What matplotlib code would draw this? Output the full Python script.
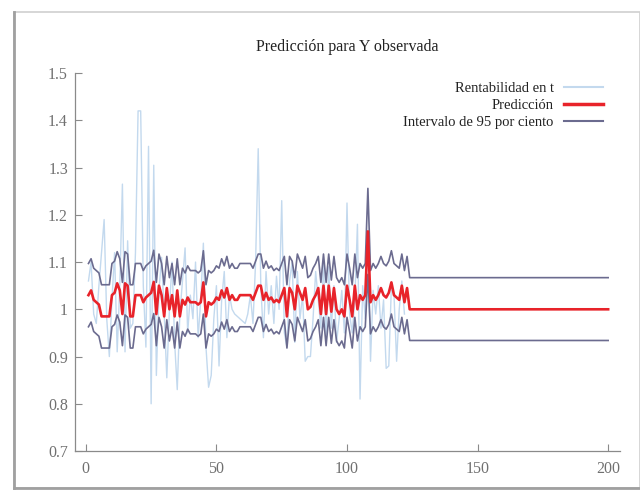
import numpy as np
import matplotlib
matplotlib.use("Agg")
from matplotlib import pyplot as plt
from matplotlib.lines import Line2D

# observed series (t = 1..122)
observed = [
    1.06, 1.10, 0.99, 0.97, 1.05, 1.12, 1.19, 0.98, 0.90, 1.02,
    1.12, 0.91, 1.05, 1.265, 0.91, 1.145, 0.96, 0.97, 1.12, 1.42,
    1.42, 1.05, 0.92, 1.345, 0.80, 1.305, 0.86, 1.04, 1.11, 0.99,
    0.855, 1.00, 1.10, 0.93, 0.83, 0.99, 1.06, 1.13, 0.95, 1.03,
    0.98, 1.10, 0.94, 1.02, 1.14, 0.92, 0.835, 0.86, 0.98, 1.05,
    0.88, 1.02, 1.08, 0.94, 1.03, 1.00, 0.99, 0.985, 0.98, 0.975,
    0.97, 0.99, 1.03, 0.97, 1.10, 1.34, 1.05, 0.94, 1.08, 0.99,
    1.05, 0.97, 1.07, 1.00, 1.23, 0.95, 0.92, 1.06, 1.10, 0.93,
    1.08, 0.98, 1.03, 0.89, 0.90, 0.90, 0.98, 1.08, 1.02, 0.96,
    1.10, 0.94, 1.09, 0.96, 1.05, 0.93, 0.98, 1.04, 0.95, 1.225,
    0.99, 0.95, 1.02, 1.18, 0.81, 1.05, 0.98, 1.16, 0.89, 1.04,
    0.99, 1.05, 0.96, 1.02, 0.875, 0.88, 1.05, 1.03, 0.89, 1.00,
    1.06, 0.99,
]

# fitted values (t = 1..123)
fitted = [
    1.030, 1.040, 1.020, 1.015, 1.010, 0.985, 0.985, 0.985, 0.985, 1.030,
    1.035, 1.055, 1.040, 0.990, 1.055, 1.050, 0.985, 0.985, 1.030, 1.030,
    1.030, 1.015, 1.025, 1.030, 1.035, 1.058, 0.990, 1.050, 1.030, 0.985,
    1.045, 1.000, 1.030, 0.985, 1.040, 0.985, 1.020, 1.010, 1.025, 1.015,
    1.015, 1.015, 1.010, 1.015, 1.057, 0.985, 1.015, 1.010, 1.015, 1.025,
    1.020, 1.040, 1.025, 1.045, 1.020, 1.030, 1.020, 1.020, 1.030, 1.030,
    1.030, 1.030, 1.030, 1.020, 1.035, 1.050, 1.050, 1.020, 1.035, 1.020,
    1.025, 1.015, 1.020, 1.015, 1.030, 1.045, 0.985, 1.045, 1.035, 1.000,
    1.050, 1.035, 1.020, 1.045, 1.000, 1.005, 1.020, 1.030, 1.045, 0.990,
    1.050, 0.990, 1.050, 0.995, 1.045, 1.000, 0.990, 1.000, 0.985, 1.050,
    1.020, 0.985, 1.050, 1.000, 1.030, 1.020, 1.030, 1.165, 1.015, 1.030,
    1.020, 1.030, 1.045, 1.030, 1.025, 1.035, 1.057, 1.030, 1.025, 1.020,
    1.050, 1.015, 1.045,
]

upper = [
    1.097, 1.107, 1.087, 1.082, 1.077, 1.052, 1.052, 1.052, 1.052, 1.097,
    1.102, 1.122, 1.107, 1.057, 1.122, 1.117, 1.052, 1.052, 1.097, 1.097,
    1.097, 1.082, 1.092, 1.097, 1.102, 1.125, 1.057, 1.117, 1.097, 1.052,
    1.112, 1.067, 1.097, 1.052, 1.107, 1.052, 1.087, 1.077, 1.092, 1.082,
    1.082, 1.082, 1.077, 1.082, 1.124, 1.052, 1.082, 1.077, 1.082, 1.092,
    1.087, 1.107, 1.092, 1.112, 1.087, 1.097, 1.087, 1.087, 1.097, 1.097,
    1.097, 1.097, 1.097, 1.087, 1.102, 1.117, 1.117, 1.087, 1.102, 1.087,
    1.092, 1.082, 1.087, 1.082, 1.097, 1.112, 1.052, 1.112, 1.102, 1.067,
    1.117, 1.102, 1.087, 1.112, 1.067, 1.072, 1.087, 1.097, 1.112, 1.057,
    1.117, 1.057, 1.117, 1.062, 1.112, 1.067, 1.057, 1.067, 1.052, 1.117,
    1.087, 1.052, 1.117, 1.067, 1.097, 1.087, 1.097, 1.256, 1.082, 1.097,
    1.087, 1.097, 1.112, 1.097, 1.092, 1.102, 1.124, 1.097, 1.092, 1.087,
    1.117, 1.082, 1.112,
]

lower = [
    0.963, 0.973, 0.953, 0.948, 0.943, 0.918, 0.918, 0.918, 0.918, 0.963,
    0.968, 0.988, 0.973, 0.923, 0.988, 0.983, 0.918, 0.918, 0.963, 0.963,
    0.963, 0.948, 0.958, 0.963, 0.968, 0.991, 0.923, 0.983, 0.963, 0.918,
    0.978, 0.933, 0.963, 0.918, 0.973, 0.918, 0.953, 0.943, 0.958, 0.948,
    0.948, 0.948, 0.943, 0.948, 0.990, 0.918, 0.948, 0.943, 0.948, 0.958,
    0.953, 0.973, 0.958, 0.978, 0.953, 0.963, 0.953, 0.953, 0.963, 0.963,
    0.963, 0.963, 0.963, 0.953, 0.968, 0.983, 0.983, 0.953, 0.968, 0.953,
    0.958, 0.948, 0.953, 0.948, 0.963, 0.978, 0.918, 0.978, 0.968, 0.933,
    0.983, 0.968, 0.953, 0.978, 0.933, 0.938, 0.953, 0.963, 0.978, 0.923,
    0.983, 0.923, 0.983, 0.928, 0.978, 0.933, 0.923, 0.933, 0.918, 0.983,
    0.953, 0.918, 0.983, 0.933, 0.963, 0.953, 0.963, 1.074, 0.948, 0.963,
    0.953, 0.963, 0.978, 0.963, 0.958, 0.968, 0.990, 0.963, 0.958, 0.953,
    0.983, 0.948, 0.978,
]

# out-of-sample forecast, t = 124..200 (constant)
fc_periods = 77
fc_pred = 1.0
fc_upper = 1.067
fc_lower = 0.934

t_obs = np.arange(1, len(observed) + 1)
t_all = np.arange(1, len(fitted) + fc_periods + 1)
pred = np.concatenate([fitted, np.full(fc_periods, fc_pred)])
hi = np.concatenate([upper, np.full(fc_periods, fc_upper)])
lo = np.concatenate([lower, np.full(fc_periods, fc_lower)])

c_obs = "#c3d9ee"
c_pred = "#e8232a"
c_int = "#6b6b8f"
grey = "#8a8a8a"

plt.rcParams["font.family"] = ["Liberation Serif", "DejaVu Serif"]

fig = plt.figure(figsize=(6.4, 4.94), dpi=100)
ax = fig.add_axes([0.117, 0.087, 0.852, 0.765])

ax.plot(t_obs, observed, color=c_obs, lw=1.0, zorder=1)
ax.plot(t_all, hi, color=c_int, lw=1.2, zorder=2)
ax.plot(t_all, lo, color=c_int, lw=1.2, zorder=2)
ax.plot(t_all, pred, color=c_pred, lw=1.9, zorder=3)

ax.set_xlim(-4.2, 204.6)
ax.set_ylim(0.7, 1.5)
ax.set_xticks([0, 50, 100, 150, 200])
ax.set_yticks([0.7, 0.8, 0.9, 1.0, 1.1, 1.2, 1.3, 1.4, 1.5])
ax.set_yticklabels(["0.7", "0.8", "0.9", "1", "1.1", "1.2", "1.3", "1.4", "1.5"])
ax.tick_params(direction="in", length=5, width=0.8, color=grey,
               labelcolor="#707070", labelsize=11.5)
ax.tick_params(axis="y", pad=5)
ax.tick_params(axis="x", pad=7)
for side in ["top", "right"]:
    ax.spines[side].set_visible(False)
for side in ["left", "bottom"]:
    ax.spines[side].set_color(grey)
    ax.spines[side].set_linewidth(0.9)

ax.set_title("Predicción para Y observada", fontsize=11.5, color="#222222", pad=16)

handles = [
    Line2D([], [], color=c_obs, lw=1.5),
    Line2D([], [], color=c_pred, lw=2.5),
    Line2D([], [], color=c_int, lw=1.5),
]
labels = ["Rentabilidad en t", "Predicción", "Intervalo de 95 por ciento"]
leg = ax.legend(handles, labels, loc="upper right", bbox_to_anchor=(0.985, 1.0),
                frameon=False, markerfirst=False, fontsize=10.5, handlelength=2.7,
                handletextpad=0.7, labelspacing=0.25, borderaxespad=0.2)
for txt in leg.get_texts():
    txt.set_color("#222222")

# screenshot-like frame around the picture
fig.add_artist(plt.Rectangle((14 / 640, 1 - 488 / 494), 626 / 640, 476 / 494,
                             transform=fig.transFigure, fill=False,
                             edgecolor="#d0d0d0", lw=1.2))
fig.add_artist(Line2D([14 / 640, 14 / 640], [1 - 488 / 494, 1 - 12 / 494],
                      transform=fig.transFigure, color="#a0a0a0", lw=2.0))
fig.add_artist(Line2D([14 / 640, 1.0], [1 - 488 / 494, 1 - 488 / 494],
                      transform=fig.transFigure, color="#a0a0a0", lw=2.0))

fig.savefig("out.png", dpi=100)
